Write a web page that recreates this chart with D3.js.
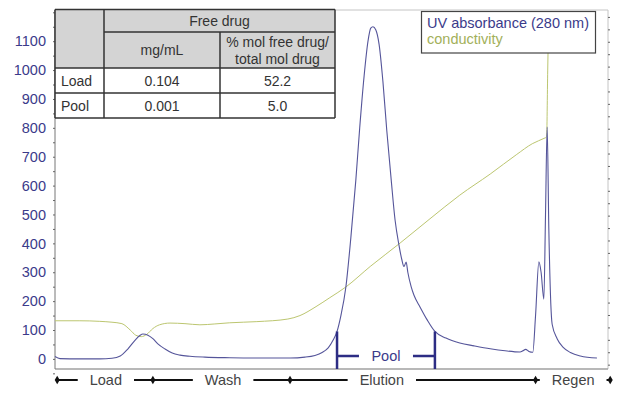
<!DOCTYPE html>
<meta charset="utf-8">
<style>
body { margin: 0; background: #fff; }
text { font-family: "Liberation Sans", Arial, sans-serif; }
.tick line { stroke: #666; }
</style>
<svg width="619" height="393"></svg>
<script src="https://cdn.jsdelivr.net/npm/d3@7"></script>
<script>

// UV absorbance (280 nm) trace, x in run units, y in mAU
var uvX = [0.0, 0.9, 4.5, 8.1, 10.3, 11.8, 13.2, 14.5, 15.4, 15.9, 16.8, 17.7, 18.6, 19.9, 21.2, 22.6, 24.4, 27.1, 31.6, 37.1,
  42.5, 45.2, 47.0, 48.3, 49.4, 50.3, 51.0, 51.7, 52.6, 53.5, 54.4, 55.1, 55.9, 56.6, 57.1, 57.5, 58.0, 58.6, 59.3, 60.0,
  60.8, 61.5, 62.2, 62.7, 63.1, 63.5, 63.8, 64.4, 64.9, 66.0, 67.3, 68.7, 70.7, 73.2, 75.8, 78.7, 81.4, 84.1, 84.6, 85.1,
  85.7, 86.4, 86.9, 87.5, 87.9, 88.4, 88.7, 89.0, 89.3, 89.9, 90.8, 91.9, 93.2, 95.0, 98.0];
var uvY = [8, 1, 0, 0, 2, 10, 35, 65, 82, 86, 82, 70, 52, 34, 20, 13, 9, 6, 4, 3,
  3, 6, 12, 22, 38, 65, 95, 150, 249, 420, 619, 800, 980, 1100, 1145, 1150, 1140, 1090, 960, 790,
  619, 480, 394, 345, 320, 335, 300, 250, 221, 180, 135, 95, 72, 55, 45, 35, 28, 24, 28, 33,
  26, 23, 150, 336, 300, 207, 500, 803, 450, 120, 70, 40, 22, 10, 3];

// conductivity trace, drawn on the same vertical scale
var condX = [0.0, 4.5, 8.1, 10.3, 12.1, 13.6, 14.6, 15.6, 16.6, 17.7, 18.9, 20.8, 23.5, 26.2, 28.9, 31.6, 36.5, 42.1, 44.3, 47.2,
  49.7, 52.6, 57.0, 62.4, 67.8, 73.2, 78.7, 83.5, 86.3, 88.6, 88.9, 89.1, 89.3];
var condY = [132, 132, 130, 127, 122, 100, 82, 77, 85, 105, 118, 124, 122, 118, 121, 125, 129, 138, 150, 181,
  212, 249, 320, 401, 485, 567, 640, 708, 745, 765, 768, 1000, 1200];

var yTicks = d3.range(0, 1101, 100);

var phaseNames = ["Load", "Wash", "Elution", "Regen"];
var phaseBounds = [0.4, 17.7, 42.5, 86.9, 100.4];
var phaseLabelX = [9.2, 30.4, 59.1, 93.7];

var poolStart = 51.0, poolEnd = 68.7, poolHeight = 95;

var tableTitle = "Free drug";
var tableColumns = ["mg/mL", "% mol free drug/\ntotal mol drug"];
var tableRows = ["Load", "Pool"];
var freeDrugMg = ["0.104", "0.001"];
var freeDrugPct = ["52.2", "5.0"];

var legendLabels = ["UV absorbance (280 nm)", "conductivity"];

var uvColor = "#55559a", condColor = "#bcc670", labelColor = "#3b3b8a";

var svg = d3.select("svg");
var x = d3.scaleLinear().domain([0, 100]).range([55, 608]);
var y = d3.scaleLinear().domain([-35, 1208]).range([369, 10]);

// frame
svg.append("path")
    .attr("d", "M" + x(0) + "," + y.range()[1] + "H" + x(100) + "V" + y.range()[0])
    .attr("fill", "none").attr("stroke", "#c4c4c4");
svg.append("line")
    .attr("x1", x(0)).attr("x2", x(100)).attr("y1", y.range()[0]).attr("y2", y.range()[0])
    .attr("stroke", "#a0a0a0").attr("stroke-width", 1.5);

// right side minor ticks
svg.append("g")
    .attr("transform", "translate(" + x(100) + ",0)")
    .call(d3.axisLeft(y).tickValues(d3.range(-20, 1200, 43)).tickSize(-2).tickFormat(""))
    .call(function(g) { g.select(".domain").remove(); g.selectAll("line").attr("stroke", "#888"); });

// left axis
var yAxis = svg.append("g")
    .attr("transform", "translate(" + x(0) + ",0)")
    .call(d3.axisLeft(y).tickValues(d3.range(-50, 1201, 50)).tickSize(2).tickPadding(7)
      .tickFormat(function(d) { return yTicks.indexOf(d) >= 0 ? d : ""; }));
yAxis.select(".domain").attr("stroke", "#777").attr("d", "M0," + y.range()[0] + "V" + y.range()[1]);
yAxis.selectAll("text").attr("fill", labelColor).style("font-size", "14.5px");

var line = d3.line().curve(d3.curveMonotoneX)
    .x(function(d) { return x(d[0]); }).y(function(d) { return y(d[1]); });

svg.append("path")
    .datum(d3.zip(condX, condY))
    .attr("fill", "none").attr("stroke", condColor).attr("stroke-width", 1)
    .attr("d", line);

svg.append("path")
    .datum(d3.zip(uvX, uvY))
    .attr("fill", "none").attr("stroke", uvColor).attr("stroke-width", 1.1)
    .attr("stroke-linejoin", "round")
    .attr("d", line);

// pool bracket
var pool = svg.append("g").attr("stroke", "#2d2d84").attr("stroke-width", 2.5);
[poolStart, poolEnd].forEach(function(p) {
  pool.append("line").attr("x1", x(p)).attr("x2", x(p)).attr("y1", y(poolHeight)).attr("y2", y.range()[0]);
});
pool.append("line").attr("x1", x(poolStart)).attr("x2", x(poolEnd)).attr("y1", 356).attr("y2", 356);
var poolMid = (x(poolStart) + x(poolEnd)) / 2;
svg.append("rect").attr("x", poolMid - 27).attr("y", 348).attr("width", 54).attr("height", 16).attr("fill", "#fff");
svg.append("text").attr("x", poolMid).attr("y", 361).attr("text-anchor", "middle")
    .attr("fill", labelColor).style("font-size", "14.5px").text("Pool");

// run phases under the axis
var phases = svg.append("g");
phases.append("line")
    .attr("x1", x(phaseBounds[0])).attr("x2", x(phaseBounds[phaseBounds.length - 1]))
    .attr("y1", 380).attr("y2", 380).attr("stroke", "#111").attr("stroke-width", 2);
phaseNames.forEach(function(name, i) {
  var t = phases.append("text").attr("x", x(phaseLabelX[i])).attr("y", 385)
      .attr("text-anchor", "middle").attr("fill", "#444").style("font-size", "14.5px").text(name);
  var w = t.node().getComputedTextLength();
  phases.insert("rect", "text").attr("x", x(phaseLabelX[i]) - w / 2 - 12).attr("y", 373)
      .attr("width", w + 24).attr("height", 16).attr("fill", "#fff");
});
phases.selectAll("path.mark").data(phaseBounds).enter().append("path")
    .attr("class", "mark")
    .attr("d", d3.symbol().type(d3.symbolDiamond).size(22))
    .attr("transform", function(d) { return "translate(" + x(d) + ",380)"; })
    .attr("fill", "#111");

// table
var colX = [55, 104, 220, 335], rowY = [9.5, 32, 68, 93, 118];
var tbl = svg.append("g");
tbl.append("rect").attr("x", colX[0]).attr("y", rowY[0]).attr("width", colX[3] - colX[0]).attr("height", rowY[2] - rowY[0]).attr("fill", "#d4d4d4");
tbl.append("rect").attr("x", colX[0]).attr("y", rowY[2]).attr("width", colX[3] - colX[0]).attr("height", rowY[4] - rowY[2]).attr("fill", "#fff");
var grid = [
  [colX[0], rowY[0], colX[3], rowY[0]], [colX[1], rowY[1], colX[3], rowY[1]],
  [colX[0], rowY[2], colX[3], rowY[2]], [colX[0], rowY[3], colX[3], rowY[3]], [colX[0], rowY[4], colX[3], rowY[4]],
  [colX[0], rowY[0], colX[0], rowY[4]], [colX[1], rowY[0], colX[1], rowY[4]],
  [colX[2], rowY[1], colX[2], rowY[4]], [colX[3], rowY[0], colX[3], rowY[4]]
];
tbl.selectAll("line").data(grid).enter().append("line")
    .attr("x1", function(d) { return d[0]; }).attr("y1", function(d) { return d[1]; })
    .attr("x2", function(d) { return d[2]; }).attr("y2", function(d) { return d[3]; })
    .attr("stroke", "#333").attr("stroke-width", 1.5);
function cell(tx, ty, s, anchor) {
  tbl.append("text").attr("x", tx).attr("y", ty).attr("text-anchor", anchor || "middle")
      .attr("fill", "#333").style("font-size", "14px").text(s);
}
cell((colX[1] + colX[3]) / 2, 26, tableTitle);
cell((colX[1] + colX[2]) / 2, 55, tableColumns[0]);
tableColumns[1].split("\n").forEach(function(s, i) { cell((colX[2] + colX[3]) / 2, 47 + i * 17, s); });
tableRows.forEach(function(r, i) {
  var ty = (rowY[i + 2] + rowY[i + 3]) / 2 + 5;
  cell(colX[0] + 6, ty, r, "start");
  cell((colX[1] + colX[2]) / 2, ty, freeDrugMg[i]);
  cell((colX[2] + colX[3]) / 2, ty, freeDrugPct[i]);
});

// legend
var lg = svg.append("g");
lg.append("rect").attr("x", 421.5).attr("y", 11.5).attr("width", 174).attr("height", 41.5)
    .attr("fill", "#fff").attr("stroke", "#444").attr("stroke-width", 1.2);
lg.selectAll("text").data(legendLabels).enter().append("text")
    .attr("x", 427).attr("y", function(d, i) { return 28 + i * 16; })
    .attr("fill", function(d, i) { return i ? "#a2b05a" : labelColor; })
    .style("font-size", "14.5px").text(function(d) { return d; });

</script>
